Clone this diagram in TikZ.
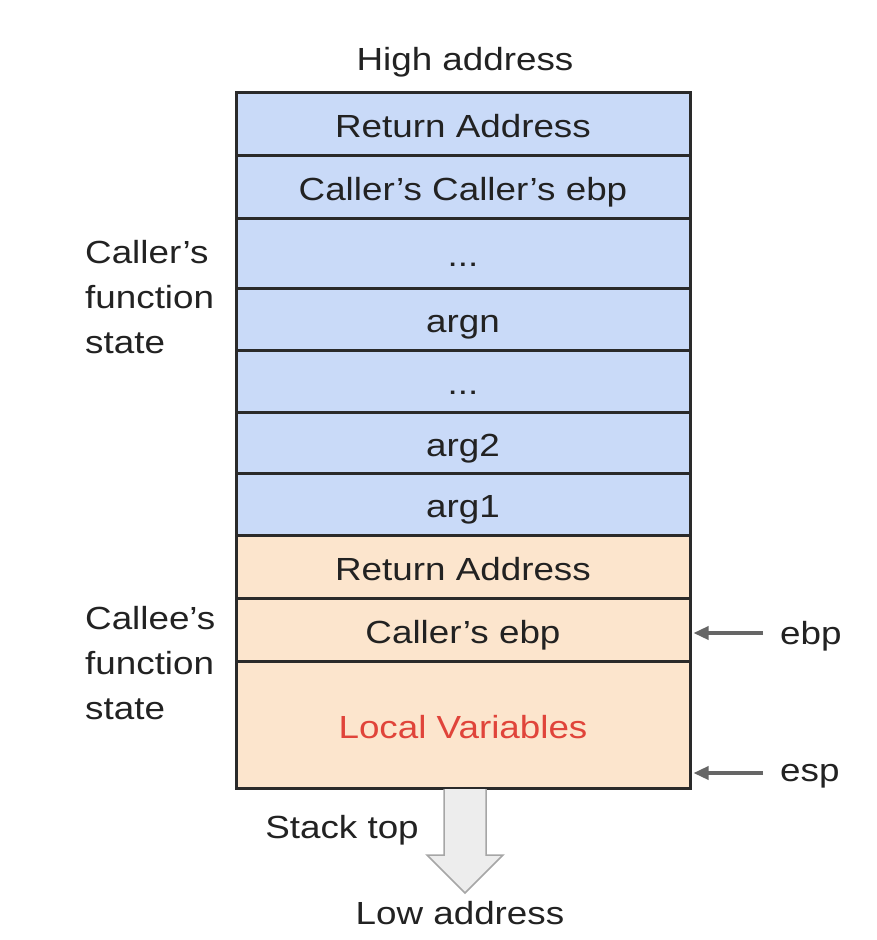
\documentclass[tikz,border=0pt]{standalone}
\usepackage{fontspec}
\usetikzlibrary{arrows.meta}
\setmainfont{Liberation Sans}[FakeStretch=1.15]
\definecolor{cellblue}{HTML}{C9DAF8}
\definecolor{cellorange}{HTML}{FCE5CD}
\definecolor{framec}{HTML}{2A2A2A}
\definecolor{textc}{HTML}{222222}
\definecolor{redtext}{HTML}{E0443A}
\definecolor{ptrc}{HTML}{666666}
\begin{document}
\begin{tikzpicture}[x=1pt,y=-1pt,
  every node/.style={font=\fontsize{32}{45}\selectfont, text=textc},
  cell/.style={draw=framec, line width=3pt, minimum width=454pt, inner sep=0pt, anchor=north,
               text height=31pt, text depth=5pt},
  bluecell/.style={cell, fill=cellblue},
  orangecell/.style={cell, fill=cellorange},
  lbl/.style={align=left, anchor=north west, inner sep=0pt},
  ptr/.style={draw=ptrc, line width=3.4pt, -{Triangle[length=15pt,width=13pt]}},
  bigarrow/.style={draw=black!35, fill=black!7, line width=1.5pt, line join=miter}
]
\useasboundingbox (0,0) rectangle (876,940);
\fill[white] (0,0) rectangle (876,940);

\node (high) at (465,62) {High address};

\node[bluecell, minimum height=63pt] (r1) at (463,91) {Return Address};
\node[bluecell, minimum height=63pt] (r2) at (463,154) {Caller’s Caller’s ebp};
\node[bluecell, minimum height=70pt] (r3) at (463,217) {...};
\node[bluecell, minimum height=62pt] (r4) at (463,287) {argn};
\node[bluecell, minimum height=62pt] (r5) at (463,349) {...};
\node[bluecell, minimum height=61pt] (r6) at (463,411) {arg2};
\node[bluecell, minimum height=62pt] (r7) at (463,472) {arg1};
\node[orangecell, minimum height=63pt] (r8) at (463,534) {Return Address};
\node[orangecell, minimum height=63pt] (r9) at (463,597) {Caller’s ebp};
\node[orangecell, minimum height=127pt, text=redtext] (r10) at (463,660) {Local Variables};

\node[lbl] (callerlbl) at (85,240) {Caller’s\\function\\state};
\node[lbl] (calleelbl) at (85,606) {Callee’s\\function\\state};

\node[anchor=west, inner sep=0pt] (ebp) at (780,636) {ebp};
\node[anchor=west, inner sep=0pt] (esp) at (780,776) {esp};
\draw[ptr, shorten <=17pt, shorten >=2pt] (ebp.west) ++(0,-3) coordinate (ebpa) (ebpa) -- (ebpa -| r9.east);
\draw[ptr, shorten <=17pt, shorten >=2pt] (esp.west) ++(0,-3) coordinate (espa) (espa) -- (espa -| r10.east);

\draw[bigarrow] (444,789) -- (444,855) -- (427,855) -- (465,893) -- (503,855) -- (486,855) -- (486,789);
\node (stacktop) at (342,830) {Stack top};
\node (low) at (460,913) {Low address};
\end{tikzpicture}
\end{document}
